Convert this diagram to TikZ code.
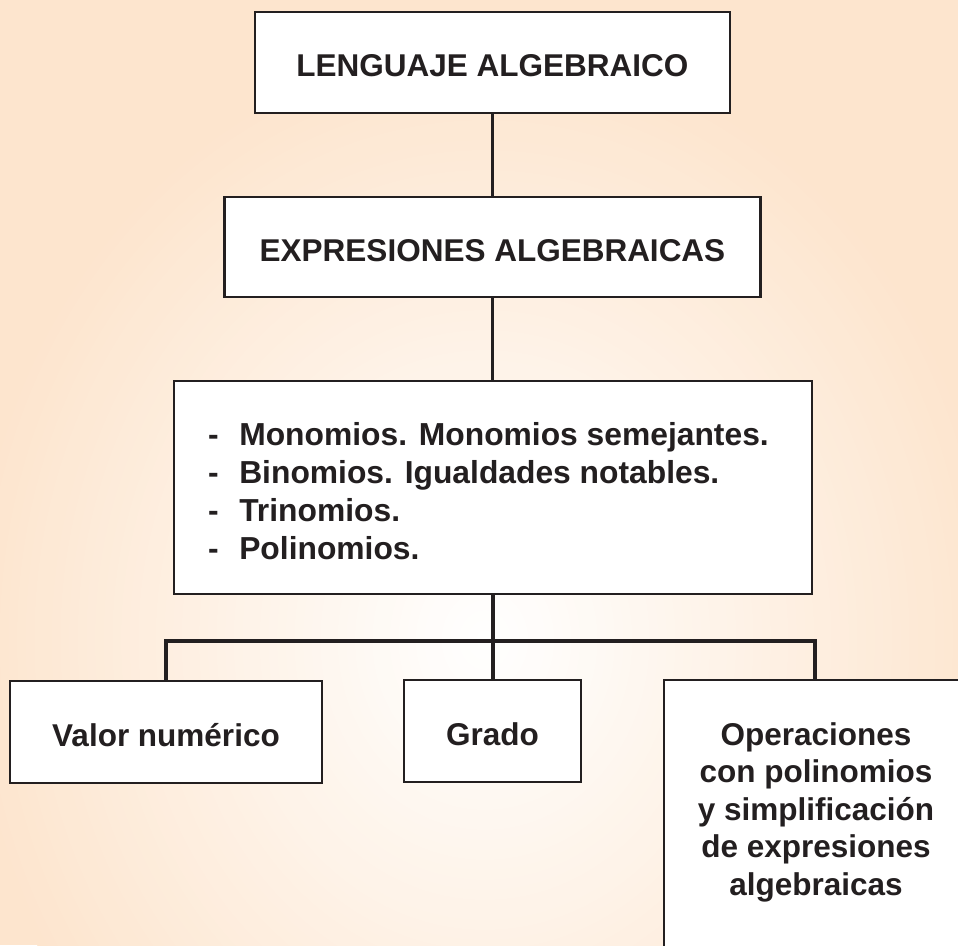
\documentclass[tikz,border=0pt]{standalone}
\usepackage{fontspec}
\setmainfont{Liberation Sans}
\definecolor{peach}{RGB}{253,229,206}
\definecolor{ink}{RGB}{35,31,32}
\begin{document}
\begin{tikzpicture}[x=1pt,y=-1pt,
  txt/.style={text=ink, font=\fontsize{31.5}{38}\selectfont\bfseries, inner sep=0pt},
  box/.style={txt, draw=ink, line width=2.8pt, fill=white, text height=28pt, text depth=0pt},
  link/.style={draw=ink, line width=3.3pt}]
\useasboundingbox (0,0) rectangle (958,945);
\clip (0,0) rectangle (958,945);
\fill[peach] (0,0) rectangle (958,945);
% soft radial glow, drawn as many concentric ellipses
\foreach \i in {0,...,59}{
  \pgfmathtruncatemacro\p{(60-\i)*5/3}
  \pgfmathsetmacro\rx{(60-\i)*8.6667}
  \pgfmathsetmacro\ry{(60-\i)*10}
  \fill[peach!\p!white] (485,640) ellipse [x radius=\rx pt, y radius=\ry pt];
}

\node[box, minimum width=475pt, minimum height=101pt] (lang) at (492.5,62.5) {LENGUAJE ALGEBRAICO};
\node[box, minimum width=536pt, minimum height=100pt] (expr) at (492.5,247) {EXPRESIONES ALGEBRAICAS};
\node[box, minimum width=638pt, minimum height=213pt] (list) at (493,487.5) {};
\node[box, minimum width=312pt, minimum height=102pt] (valor) at (166,732) {Valor numérico};
\node[box, minimum width=177pt, minimum height=102pt] (grado) at (492.5,731) {Grado};
\node[box, minimum width=302pt, minimum height=300pt] (oper) at (815,830) {};

\coordinate (bar) at (493,641);
\draw[link] (lang.south) -- (lang.south |- expr.north);
\draw[link] (expr.south) -- (expr.south |- list.north);
\draw[link] (list.south) -- (list.south |- grado.north);
\draw[link] (valor.north) |- (bar) -| (oper.north);

\node[txt, anchor=base west, font=\fontsize{31.8}{38}\selectfont\bfseries] (listtext) at (208,445)
  {\begin{tabular}[t]{@{}l@{\hspace{20.5pt}}l@{}}
   -&Monomios. Monomios semejantes.\\
   -&Binomios. Igualdades notables.\\
   -&Trinomios.\\
   -&Polinomios.
   \end{tabular}};
\node[txt, anchor=base, font=\fontsize{31.5}{37.5}\selectfont\bfseries] (opertext) at (816,745)
  {\begin{tabular}[t]{@{}c@{}}
   Operaciones\\
   con polinomios\\
   y simplificación\\
   de expresiones\\
   algebraicas
   \end{tabular}};
\end{tikzpicture}
\end{document}
